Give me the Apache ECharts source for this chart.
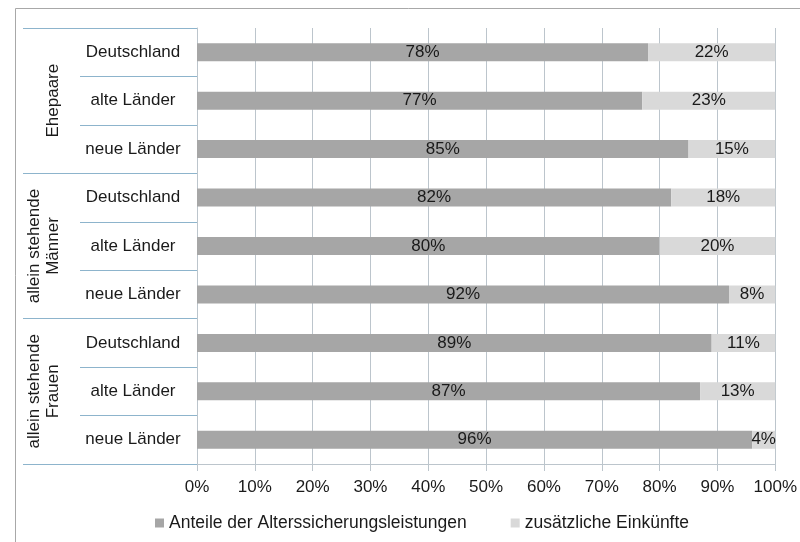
<!DOCTYPE html>
<html>
<head>
<meta charset="utf-8">
<script src="https://cdn.jsdelivr.net/npm/echarts@6/dist/echarts.min.js"></script>
<style>
html,body{margin:0;padding:0;background:#fff;}
#chart{width:800px;height:542px;}
</style>
</head>
<body>
<div id="chart"></div>
<script>
var categories = ['Deutschland', 'alte Länder', 'neue Länder',
                  'Deutschland', 'alte Länder', 'neue Länder',
                  'Deutschland', 'alte Länder', 'neue Länder'];
var groups = ['Ehepaare', 'allein stehende\nMänner', 'allein stehende\nFrauen'];
var seriesNames = ['Anteile der Alterssicherungsleistungen', 'zusätzliche Einkünfte'];
var anteile = [78, 77, 85, 82, 80, 92, 89, 87, 96];
var zusatz = [22, 23, 15, 18, 20, 8, 11, 13, 4];

var FONT = 'Liberation Sans, Arial, sans-serif';
var FS = 17;
var TXT = '#1a1a1a';
var GRID = '#bcc5cc';
var SEP = '#8db4cc';

var chart = echarts.init(document.getElementById('chart'));
chart.setOption({
  animation: false,
  backgroundColor: '#fff',
  textStyle: {fontFamily: FONT},
  graphic: [{
    type: 'polyline',
    shape: {points: [[15.5, 560], [15.5, 8.5], [820, 8.5]]},
    style: {stroke: '#a8a8a8', lineWidth: 1, fill: null},
    silent: true
  }],
  grid: {left: 197, right: 21, top: 28, bottom: 78, containLabel: false},
  legend: {
    left: 150, top: 509,
    itemWidth: 9, itemHeight: 9, itemGap: 44,
    icon: 'rect',
    textStyle: {fontFamily: FONT, fontSize: 17.5, color: TXT},
    data: seriesNames
  },
  xAxis: {
    type: 'value', min: 0, max: 100, interval: 10,
    axisLine: {show: true, lineStyle: {color: GRID, width: 1}},
    axisTick: {show: true, length: 7, lineStyle: {color: GRID}},
    splitLine: {show: true, lineStyle: {color: GRID, width: 1}},
    axisLabel: {formatter: '{value}%', fontFamily: FONT, fontSize: FS, color: TXT, margin: 15}
  },
  yAxis: [{
    type: 'category', inverse: true, data: categories, position: 'left',
    axisLine: {show: true, lineStyle: {color: GRID}},
    axisTick: {show: true, length: 117, interval: 0, lineStyle: {color: SEP}},
    axisLabel: {interval: 0, align: 'center', margin: 64, fontFamily: FONT, fontSize: FS, color: TXT}
  }, {
    type: 'category', inverse: true, data: groups, position: 'left', offset: 0,
    axisLine: {show: false},
    axisTick: {show: true, length: 174, interval: 0, lineStyle: {color: SEP}},
    axisLabel: {interval: 0, rotate: 90, margin: 134, lineHeight: 19, fontFamily: FONT, fontSize: FS, color: TXT}
  }],
  series: [{
    name: seriesNames[0], type: 'bar', stack: 'a', yAxisIndex: 0,
    barWidth: 18, data: anteile,
    itemStyle: {color: '#a6a6a6'},
    label: {show: true, position: 'inside', formatter: '{c}%', fontFamily: FONT, fontSize: FS, color: TXT}
  }, {
    name: seriesNames[1], type: 'bar', stack: 'a', yAxisIndex: 0,
    barWidth: 18, data: zusatz,
    itemStyle: {color: '#d9d9d9'},
    label: {show: true, position: 'inside', formatter: '{c}%', fontFamily: FONT, fontSize: FS, color: TXT}
  }]
});
</script>
</body>
</html>
